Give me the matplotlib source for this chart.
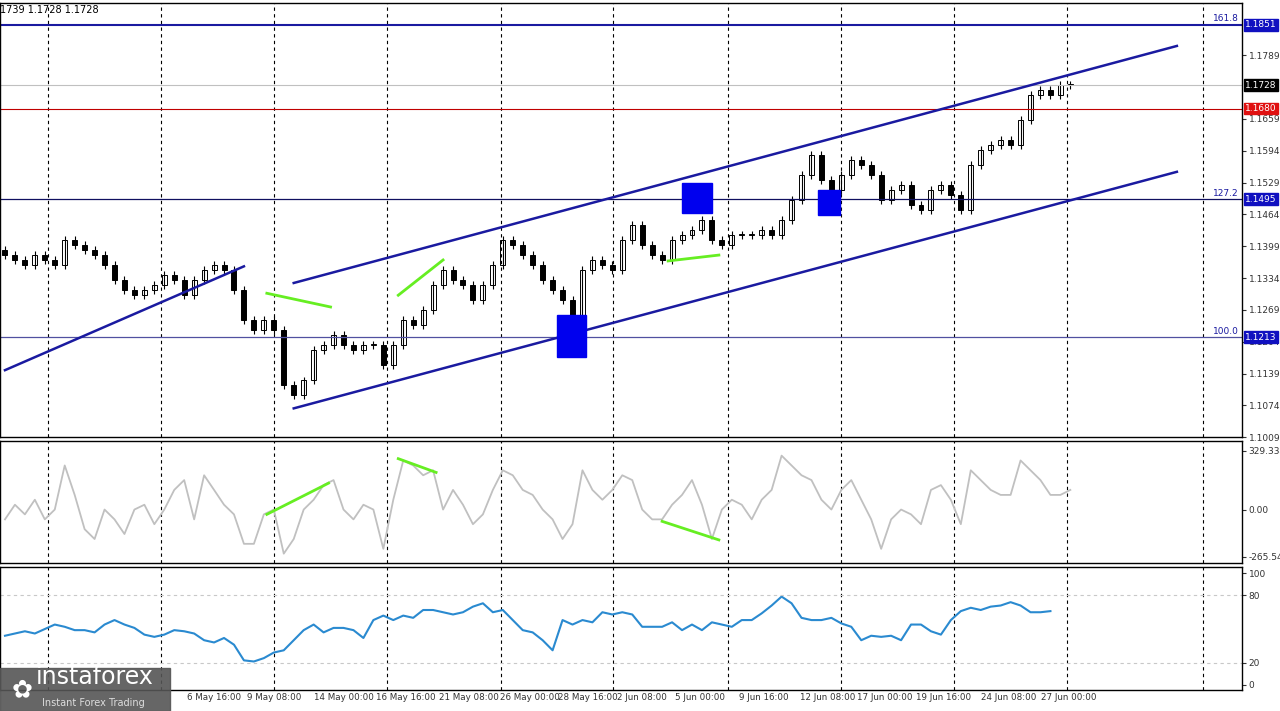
import matplotlib
matplotlib.use("Agg")
import matplotlib.pyplot as plt
from matplotlib.patches import Rectangle
import numpy as np

closes = [1.1381,1.1371,1.1360,1.1381,1.1371,1.1360,1.1412,1.1401,1.1391,1.1381,1.1360,1.1330,1.1309,1.1299,
          1.1309,1.1320,1.1340,1.1330,1.1299,1.1330,1.1350,1.1360,1.1350,1.1309,1.1248,1.1228,1.1248,1.1228,
          1.1115,1.1095,1.1125,1.1187,1.1197,1.1217,1.1197,1.1187,1.1197,1.1197,1.1156,1.1197,1.1248,1.1238,
          1.1268,1.1320,1.1350,1.1330,1.1320,1.1289,1.1320,1.1360,1.1412,1.1401,1.1381,1.1360,1.1330,1.1309,
          1.1289,1.1248,1.1350,1.1371,1.1360,1.1350,1.1412,1.1442,1.1401,1.1381,1.1371,1.1412,1.1422,1.1432,
          1.1452,1.1412,1.1401,1.1422,1.1422,1.1422,1.1432,1.1422,1.1452,1.1493,1.1544,1.1585,1.1534,1.1514,
          1.1544,1.1575,1.1565,1.1544,1.1493,1.1514,1.1524,1.1483,1.1473,1.1514,1.1524,1.1504,1.1473,1.1565,
          1.1595,1.1606,1.1616,1.1606,1.1657,1.1708,1.1718,1.1708,1.1728,1.1728]
cci = [-55,27,-27,55,-55,0,247,82,-110,-165,0,-55,-137,0,27,-82,0,110,165,-55,192,110,27,-27,-192,-192,
       -27,0,-247,-165,0,55,137,165,0,-55,27,0,-220,55,275,247,192,220,0,110,27,-82,-27,110,220,192,110,82,
       0,-55,-165,-82,220,110,55,110,192,165,0,-55,-55,27,82,165,27,-165,0,55,27,-55,55,110,302,247,192,165,
       55,0,110,165,55,-55,-220,-55,0,-27,-82,110,137,55,-82,220,165,110,82,82,275,220,165,82,82,110]
rsi = [44,46,48,46,50,54,52,49,49,47,54,58,54,51,45,43,45,49,48,46,40,38,42,36,22,21,24,29,31,40,49,54,47,51,51,
       49,42,58,62,58,62,60,67,67,65,63,65,70,73,65,67,58,49,47,40,31,58,54,58,56,65,63,65,63,52,52,52,
       56,49,54,49,56,54,52,58,58,64,71,79,73,60,58,58,60,55,52,40,44,43,44,40,54,54,48,45,58,66,69,67,70,71,74,71,65,65,66]

price_ticks = [1.1789,1.1659,1.1594,1.1529,1.1464,1.1399,1.1334,1.1269,1.1204,1.1139,1.1074,1.1009]
date_labels = ["6 May 16:00","9 May 08:00","14 May 00:00","16 May 16:00","21 May 08:00","26 May 00:00",
               "28 May 16:00","2 Jun 08:00","5 Jun 00:00","9 Jun 16:00","12 Jun 08:00","17 Jun 00:00",
               "19 Jun 16:00","24 Jun 08:00","27 Jun 00:00"]
date_pos = [21.0,27.0,34.0,40.3,46.6,52.7,58.5,64.0,69.8,76.2,82.6,88.4,94.3,100.8,106.8]
grid_x = [4.3,15.7,27.0,38.4,49.8,61.1,72.6,84.0,95.3,106.7,120.3]

PMIN, PMAX = 1.1009, 1.1896
XMAX = 124.2
fig = plt.figure(figsize=(12.8, 7.11), dpi=100)
ax = fig.add_axes([0, 0.385, 0.970, 0.611])
ax2 = fig.add_axes([0, 0.208, 0.970, 0.172])
ax3 = fig.add_axes([0, 0.0295, 0.970, 0.173])
for a in (ax, ax2, ax3):
    a.set_xlim(-0.5, XMAX)
    a.yaxis.tick_right()
    a.set_xticks([])
    for s in a.spines.values():
        s.set_color("black"); s.set_linewidth(1)
    for gx in grid_x:
        a.axvline(gx, color="black", ls=(0, (3, 3)), lw=0.8)
    a.tick_params(axis="y", labelsize=6.5, length=3, pad=2, colors="#333333")

prev = closes[0] + 0.001
for i, c in enumerate(closes):
    o = prev
    hi, lo = max(o, c) + 0.0008, min(o, c) - 0.0008
    ax.vlines(i, lo, hi, color="black", lw=0.8)
    up = c >= o
    ax.add_patch(Rectangle((i - 0.25, min(o, c)), 0.5, max(abs(c - o), 0.0002),
                           facecolor="white" if up else "black", edgecolor="black", lw=0.7))
    prev = c
ax.set_ylim(PMIN, PMAX)
ax.set_yticks(price_ticks)
ax.set_yticklabels([f"{t:.4f}" for t in price_ticks])

ax.axhline(1.1851, color="#1a1aa0", lw=1.5)
ax.axhline(1.1728, color="#c0c0c0", lw=0.8)
ax.axhline(1.1680, color="#c00000", lw=0.8)
ax.axhline(1.1495, color="#101060", lw=0.9)
ax.axhline(1.1213, color="#5050a0", lw=0.9)
for lv, txt in [(1.1851, "161.8"), (1.1495, "127.2"), (1.1213, "100.0")]:
    ax.text(XMAX - 0.3, lv + 0.0003, txt, ha="right", va="bottom", fontsize=6.5, color="#1a1aa0")
for lv, txt, col in [(1.1851, "1.1851", "#1010c0"), (1.1728, "1.1728", "black"), (1.1680, "1.1680", "#e01010"),
                     (1.1495, "1.1495", "#1010c0"), (1.1213, "1.1213", "#1010c0")]:
    ax.text(1.003, (lv - PMIN) / (PMAX - PMIN), txt, transform=ax.transAxes, fontsize=6.5, color="white",
            va="center", ha="left", bbox=dict(boxstyle="square,pad=0.15", fc=col, ec=col), clip_on=False)

ax.plot([29, 117.7], [1.1324, 1.1808], color="#1a1aa0", lw=1.8)
ax.plot([29, 117.7], [1.1068, 1.1551], color="#1a1aa0", lw=1.8)
ax.plot([0, 24], [1.1146, 1.1358], color="#1a1aa0", lw=1.8)
for xc, yc, w, h in [(56.9, 1.1215, 3.0, 0.0086), (69.5, 1.1497, 3.0, 0.0061), (82.8, 1.1489, 2.2, 0.0051)]:
    ax.add_patch(Rectangle((xc - w / 2, yc - h / 2), w, h, color="#0000ee", zorder=5))
for (x0, y0), (x1, y1) in [((26.3, 1.1303), (32.7, 1.1275)), ((39.5, 1.1299), (44.0, 1.1371)),
                           ((66.6, 1.1369), (71.7, 1.1381))]:
    ax.plot([x0, x1], [y0, y1], color="#66ee22", lw=2, zorder=6)
ax.text(0, 0.995, "1739 1.1728 1.1728", transform=ax.transAxes, fontsize=7, va="top")

ax2.plot(range(len(cci)), cci, color="#c0c0c0", lw=1.3)
ax2.set_ylim(-300, 385)
ax2.set_yticks([329.3341, 0, -265.544])
ax2.set_yticklabels(["329.3341", "0.00", "-265.544"])
ax2.plot([26.3, 32.5], [-27, 148], color="#66ee22", lw=2)
ax2.plot([39.5, 43.3], [285, 208], color="#66ee22", lw=2)
ax2.plot([66.0, 71.7], [-66, -170], color="#66ee22", lw=2)

ax3.plot(range(len(rsi)), rsi, color="#2a8ad0", lw=1.5)
ax3.set_ylim(-4.5, 105.4)
ax3.set_yticks([100, 80, 20, 0])
for lv in (80, 20):
    ax3.axhline(lv, color="#c8c8c8", ls=(0, (3, 3)), lw=0.8)
for p, l in zip(date_pos, date_labels):
    ax3.text(p, -7, l, ha="center", va="top", fontsize=6.3, color="#333333", clip_on=False)

fig.patches.append(Rectangle((0, 0), 170 / 1280, 43 / 711, transform=fig.transFigure, color="#555555", alpha=0.9, zorder=10))
fig.text(36 / 1280, 22 / 711, "instaforex", color="white", fontsize=17, zorder=11, va="bottom")
fig.text(42 / 1280, 5 / 711, "Instant Forex Trading", color="#dddddd", fontsize=7, zorder=11)
fig.text(12 / 1280, 14 / 711, "✿", color="white", fontsize=18, zorder=11, family="DejaVu Sans")

fig.savefig("out.png", dpi=100, facecolor="white")
